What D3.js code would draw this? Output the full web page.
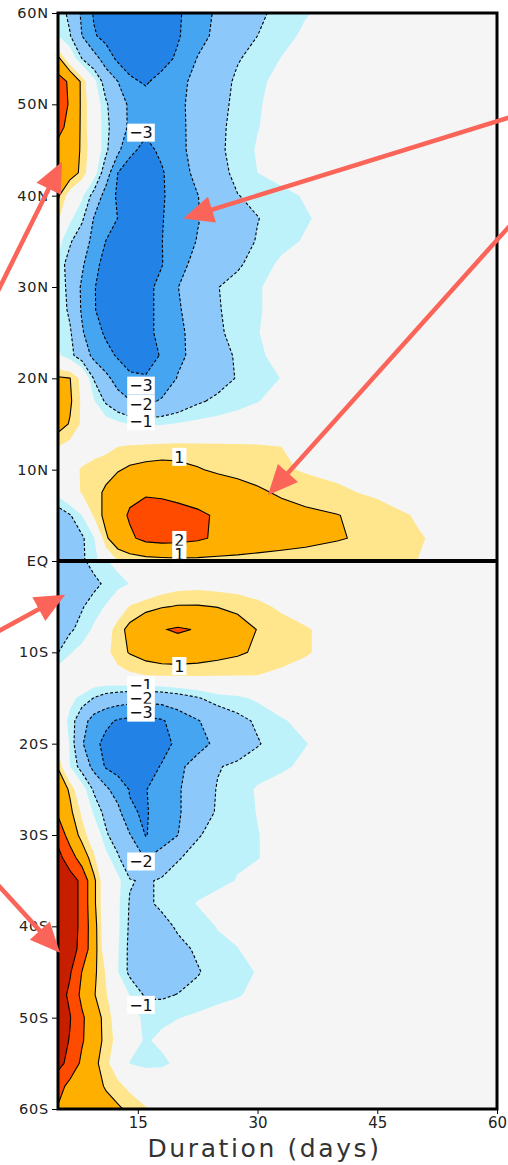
<!DOCTYPE html>
<html>
<head>
<meta charset="utf-8">
<title>Duration (days)</title>
<script src="https://cdn.jsdelivr.net/npm/d3@7"></script>
<style>
  body { margin: 0; background: #fff; }
  svg { display: block; font-family: "DejaVu Sans", sans-serif; }
</style>
</head>
<body>
<div id="chart"></div>
<script>
const w = 508;
const h = 1165;

// grid columns (days) and rows (latitude) of the two panels
const durations = [5, 6.5, 8, 9.5, 11, 12.5, 14, 16, 18, 20, 22.5, 25, 27.5, 30, 33, 36, 40, 45, 50, 55, 60];
const latsNorth = [60, 57.5, 55, 52.5, 50, 47.5, 45, 42.5, 40, 37.5, 35, 32.5, 30, 27.5, 25, 22.5, 20, 17.5, 15, 12.5, 10, 7.5, 5, 2.5, 0];
const latsSouth = [0, -2.5, -5, -7.5, -10, -12.5, -15, -17.5, -20, -22.5, -25, -27.5, -30, -32.5, -35, -37.5, -40, -42.5, -45, -47.5, -50, -52.5, -55, -57.5, -60];

// anomaly, one row per latitude
const anomalyNorth = [
  [-0.6, -1.2, -2.15, -3.1, -3.4, -3.6, -3.7, -3.7, -3.5, -3.15, -2.4, -1.85, -1.48, -1.13, -0.81, -0.54, -0.3, -0.1, 0, 0, 0],
  [-0.5, -0.95, -2.0, -2.9, -3.3, -3.5, -3.6, -3.6, -3.4, -3.1, -2.35, -1.75, -1.4, -1.0, -0.68, -0.4, -0.2, -0.05, 0, 0, 0],
  [1.2, 0.0, -1.0, -1.6, -2.45, -3.2, -3.4, -3.5, -3.35, -2.85, -1.95, -1.5, -1.05, -0.78, -0.48, -0.3, -0.15, 0, 0, 0, 0],
  [2.4, 1.85, 0.85, -0.3, -1.35, -2.0, -2.85, -3.1, -2.7, -2.25, -1.75, -1.3, -0.88, -0.6, -0.35, -0.2, -0.1, 0, 0, 0, 0],
  [2.5, 1.9, 0.85, 0.0, -0.9, -1.55, -2.15, -2.6, -2.6, -2.2, -1.67, -1.2, -0.85, -0.55, -0.3, -0.15, -0.05, 0, 0, 0, 0],
  [2.2, 1.8, 0.85, 0.0, -0.8, -1.5, -2.15, -2.8, -2.7, -2.25, -1.64, -1.15, -0.8, -0.52, -0.3, -0.15, 0, 0, 0, 0, 0],
  [1.8, 1.45, 0.9, 0.05, -0.85, -1.77, -2.8, -3.25, -2.82, -2.25, -1.66, -1.15, -0.75, -0.45, -0.3, -0.15, 0, 0, 0, 0, 0],
  [1.7, 1.35, 0.85, -0.2, -1.46, -3.0, -3.4, -3.5, -3.1, -2.43, -1.74, -1.25, -0.82, -0.5, -0.3, -0.15, 0, 0, 0, 0, 0],
  [1.1, 0.2, -0.4, -1.25, -2.4, -3.15, -3.5, -3.6, -3.1, -2.6, -2.02, -1.51, -1.02, -0.84, -0.65, -0.45, -0.25, -0.1, 0, 0, 0],
  [0.6, -0.4, -0.85, -2.05, -2.5, -3.02, -3.3, -3.45, -3.05, -2.6, -2.05, -1.6, -1.25, -1.02, -0.75, -0.55, -0.3, -0.1, 0, 0, 0],
  [-0.3, -0.9, -1.56, -2.25, -3.02, -3.35, -3.5, -3.5, -3.02, -2.5, -1.95, -1.6, -1.3, -0.95, -0.65, -0.45, -0.25, -0.1, 0, 0, 0],
  [-0.6, -1.33, -1.85, -2.73, -3.3, -3.45, -3.5, -3.45, -3.05, -2.25, -1.76, -1.45, -1.1, -0.74, -0.4, -0.25, -0.1, 0, 0, 0, 0],
  [-0.6, -1.23, -2.13, -2.95, -3.35, -3.5, -3.5, -3.3, -2.7, -2.02, -1.5, -1.02, -0.78, -0.55, -0.3, -0.15, 0, 0, 0, 0, 0],
  [-0.55, -1.15, -2.1, -2.95, -3.3, -3.45, -3.45, -3.25, -2.75, -2.1, -1.55, -1.05, -0.78, -0.55, -0.3, -0.15, 0, 0, 0, 0, 0],
  [-0.6, -0.9, -1.9, -2.6, -3.15, -3.35, -3.4, -3.2, -2.8, -2.2, -1.65, -1.1, -0.8, -0.52, -0.3, -0.15, 0, 0, 0, 0, 0],
  [-0.4, -0.8, -1.4, -2.25, -2.7, -3.1, -3.25, -3.25, -2.95, -2.2, -1.7, -1.3, -0.9, -0.6, -0.3, -0.15, 0, 0, 0, 0, 0],
  [1.1, 1.02, 0.3, -1.05, -1.75, -2.4, -2.9, -2.95, -2.6, -1.95, -1.62, -1.3, -0.95, -0.75, -0.48, -0.25, -0.1, 0, 0, 0, 0],
  [1.35, 1.1, 0.4, -0.45, -1.1, -1.6, -1.95, -2.2, -1.9, -1.55, -1.1, -0.85, -0.7, -0.52, -0.3, -0.15, 0, 0, 0, 0, 0],
  [1.3, 0.95, 0.4, 0.0, -0.2, -0.35, -0.52, -0.6, -0.55, -0.45, -0.35, -0.3, -0.2, -0.15, -0.1, 0, 0, 0, 0, 0, 0],
  [0.5, 0.3, 0.2, 0.25, 0.35, 0.5, 0.58, 0.62, 0.66, 0.68, 0.65, 0.63, 0.6, 0.57, 0.5, 0.4, 0.3, 0.2, 0.1, 0, 0],
  [0.1, 0.3, 0.55, 0.7, 0.8, 0.95, 1.1, 1.2, 1.25, 1.2, 1.05, 0.9, 0.8, 0.7, 0.58, 0.45, 0.35, 0.2, 0.1, 0, 0],
  [-0.3, 0.2, 0.55, 0.8, 1.1, 1.45, 1.8, 1.9, 1.85, 1.75, 1.6, 1.45, 1.3, 1.12, 0.9, 0.75, 0.6, 0.4, 0.2, 0.05, 0],
  [-1.4, -1.05, -0.5, 0.6, 1.2, 1.69, 2.1, 2.4, 2.4, 2.3, 2.15, 1.9, 1.7, 1.5, 1.3, 1.15, 1.02, 0.75, 0.45, 0.2, 0.05],
  [-1.6, -1.3, -1.1, -0.55, 0.9, 1.45, 1.85, 2.25, 2.35, 2.3, 2.15, 1.85, 1.65, 1.45, 1.3, 1.2, 1.05, 0.85, 0.55, 0.3, 0.1],
  [-1.4, -1.3, -1.1, -0.7, -0.1, 0.5, 0.6, 0.7, 0.75, 0.8, 0.8, 0.78, 0.76, 0.75, 0.73, 0.7, 0.65, 0.58, 0.5, 0.3, 0.1]
];

const anomalySouth = [
  [-1.5, -1.3, -1.1, -0.8, -0.55, -0.3, 0.0, 0.2, 0.4, 0.5, 0.35, 0.2, 0.1, 0, 0, 0, 0, 0, 0, 0, 0],
  [-1.6, -1.45, -1.3, -1.15, -0.9, -0.7, -0.48, -0.2, 0.1, 0.25, 0.3, 0.25, 0.2, 0.15, 0.1, 0, 0, 0, 0, 0, 0],
  [-1.5, -1.25, -1.05, -0.75, -0.45, 0.1, 0.55, 0.8, 0.95, 1.05, 1.05, 0.98, 0.85, 0.65, 0.4, 0.25, 0.1, 0, 0, 0, 0],
  [-1.3, -1.1, -0.8, -0.4, 0.2, 0.75, 1.2, 1.6, 1.95, 2.1, 1.95, 1.6, 1.3, 0.98, 0.75, 0.55, 0.3, 0.1, 0, 0, 0],
  [-1.02, -0.55, -0.3, 0.0, 0.35, 0.75, 1.05, 1.3, 1.45, 1.5, 1.4, 1.25, 1.1, 0.9, 0.7, 0.55, 0.3, 0.1, 0, 0, 0],
  [-0.1, 0, 0.05, 0.1, 0.2, 0.3, 0.4, 0.5, 0.55, 0.55, 0.55, 0.53, 0.52, 0.5, 0.4, 0.3, 0.15, 0, 0, 0, 0],
  [-0.2, -0.4, -0.6, -1.02, -1.3, -1.45, -1.55, -1.6, -1.55, -1.35, -1.05, -0.7, -0.6, -0.4, -0.2, 0, 0, 0, 0, 0, 0],
  [-0.2, -0.6, -1.6, -2.4, -2.8, -3.1, -3.25, -3.3, -3.1, -2.6, -2.05, -1.6, -1.2, -0.9, -0.55, -0.35, -0.15, 0, 0, 0, 0],
  [0.2, -0.55, -1.9, -2.75, -3.25, -3.45, -3.5, -3.45, -3.25, -2.85, -2.3, -1.8, -1.45, -1.05, -0.7, -0.52, -0.25, -0.1, 0, 0, 0],
  [0.95, -0.5, -1.3, -2.3, -3.1, -3.35, -3.4, -3.3, -2.95, -2.2, -1.65, -1.05, -0.85, -0.7, -0.58, -0.4, -0.2, 0, 0, 0, 0],
  [1.5, 0.9, -0.2, -1.1, -1.8, -2.5, -3.05, -3.05, -2.45, -2.1, -1.5, -0.95, -0.7, -0.45, -0.3, -0.15, 0, 0, 0, 0, 0],
  [1.85, 1.15, 0.4, -0.6, -1.2, -1.7, -2.9, -3.1, -2.5, -2.1, -1.5, -0.9, -0.7, -0.48, -0.3, -0.15, 0, 0, 0, 0, 0],
  [2.7, 1.55, 0.75, 0.1, -0.9, -1.4, -1.95, -3.05, -2.5, -2.02, -1.05, -0.8, -0.65, -0.52, -0.3, -0.15, 0, 0, 0, 0, 0],
  [3.3, 2.5, 1.5, 0.6, -0.3, -0.9, -1.6, -2.05, -1.6, -1.05, -0.8, -0.65, -0.55, -0.52, -0.3, -0.15, 0, 0, 0, 0, 0],
  [3.8, 3.4, 2.8, 1.15, 0.0, -0.35, -0.95, -1.1, -0.9, -0.75, -0.65, -0.6, -0.48, -0.3, -0.15, 0, 0, 0, 0, 0, 0],
  [3.8, 3.4, 2.8, 1.15, 0.0, -0.4, -1.05, -1.15, -0.85, -0.65, -0.48, -0.35, -0.25, -0.15, 0, 0, 0, 0, 0, 0, 0],
  [3.8, 3.4, 2.8, 1.3, 0.0, -0.4, -1.1, -1.45, -1.25, -0.9, -0.65, -0.48, -0.3, -0.15, 0, 0, 0, 0, 0, 0, 0],
  [3.8, 3.35, 2.75, 1.3, 0.1, -0.45, -1.15, -1.55, -1.45, -1.2, -0.9, -0.6, -0.52, -0.25, -0.1, 0, 0, 0, 0, 0, 0],
  [3.7, 3.1, 1.98, 1.15, 0.45, -0.48, -1.15, -1.55, -1.5, -1.35, -1.05, -0.75, -0.6, -0.48, -0.2, -0.05, 0, 0, 0, 0, 0],
  [3.5, 2.8, 1.75, 1.05, 0.55, 0.0, -0.52, -1.1, -1.1, -0.98, -0.8, -0.65, -0.55, -0.35, -0.15, 0, 0, 0, 0, 0, 0],
  [3.5, 3.05, 2.15, 1.4, 0.75, 0.2, -0.3, -0.6, -0.6, -0.52, -0.4, -0.3, -0.2, -0.1, 0, 0, 0, 0, 0, 0, 0],
  [3.4, 2.95, 2.1, 1.4, 0.8, 0.3, -0.3, -0.55, -0.4, -0.2, -0.1, 0, 0, 0, 0, 0, 0, 0, 0, 0, 0],
  [3.3, 2.7, 1.8, 1.2, 0.65, 0.1, -0.52, -0.65, -0.6, -0.4, -0.2, 0, 0, 0, 0, 0, 0, 0, 0, 0, 0],
  [2.4, 1.7, 1.4, 1.2, 0.95, 0.65, 0.35, 0.1, 0, 0, 0, 0, 0, 0, 0, 0, 0, 0, 0, 0, 0],
  [1.9, 1.6, 1.4, 1.3, 1.2, 1.1, 0.85, 0.55, 0.3, 0.1, 0, 0, 0, 0, 0, 0, 0, 0, 0, 0, 0]
];

const shadeLevels = [0.5, 1, 2, 3];
const lineLevels = [1, 2, 3];
const warmColors = ["#ffe68c", "#ffaf00", "#ff4b00", "#c81e00"];
const coolColors = ["#bef2fa", "#8cc8fa", "#46a5f0", "#2382e6"];

const latTicks = [60, 50, 40, 30, 20, 10, 0, -10, -20, -30, -40, -50, -60];
const dayTicks = [15, 30, 45, 60];

// contour labels placed on their lines (day, latitude)
const contourLabels = [
  {text: "\u22123", day: 15.4, lat: 46.9},
  {text: "\u22123", day: 15.4, lat: 19.2},
  {text: "\u22122", day: 15.4, lat: 17.2},
  {text: "\u22121", day: 15.4, lat: 15.3},
  {text: "1", day: 20.2, lat: 11.4},
  {text: "2", day: 20.2, lat: 2.3},
  {text: "1", day: 20.2, lat: 0.7},
  {text: "1", day: 20.2, lat: -11.5},
  {text: "\u22121", day: 15.4, lat: -13.6},
  {text: "\u22122", day: 15.4, lat: -15.0},
  {text: "\u22123", day: 15.4, lat: -16.6},
  {text: "\u22122", day: 15.4, lat: -32.9},
  {text: "\u22121", day: 15.4, lat: -48.6}
];

// annotation arrows (day, latitude), tail -> head
const arrows = [
  {from: [-2.9, 28.9], to: [5.5, 43.7]},
  {from: [61.7, 48.6], to: [20.7, 37.5]},
  {from: [61.7, 36.8], to: [31.3, 7.2]},
  {from: [-2.9, -7.9], to: [5.9, -3.7]},
  {from: [-2.9, -35.1], to: [5.25, -42.9]}
];

const svg = d3.select("#chart").append("svg").attr("width", w).attr("height", h);

const x = d3.scaleLinear().domain([5, 60]).range([58, 497]);
const y = d3.scaleLinear().domain([60, -60]).range([13, 1109]);

svg.append("rect")
  .attr("x", x(5)).attr("y", y(60))
  .attr("width", x(60) - x(5)).attr("height", y(-60) - y(60))
  .attr("fill", "#f5f5f5");

function drawPanel(grid, lats, id) {
  const nx = durations.length, ny = lats.length;
  const flat = grid.flat();
  const neg = flat.map(v => -v);
  // grid index -> data value (values sit at cell centres in d3.contours)
  const colDay = d3.scaleLinear().domain(d3.range(nx)).range(durations).clamp(true);
  const rowLat = d3.scaleLinear().domain(d3.range(ny)).range(lats).clamp(true);
  const path = d3.geoPath(d3.geoTransform({
    point(px, py) { this.stream.point(x(colDay(px - 0.5)), y(rowLat(py - 0.5))); }
  }));

  svg.append("clipPath").attr("id", id)
    .append("rect")
      .attr("x", x(5)).attr("y", y(d3.max(lats)))
      .attr("width", x(60) - x(5)).attr("height", y(d3.min(lats)) - y(d3.max(lats)));

  const g = svg.append("g").attr("clip-path", "url(#" + id + ")");
  const shade = d3.contours().size([nx, ny]).thresholds(shadeLevels);
  const lines = d3.contours().size([nx, ny]).thresholds(lineLevels);

  g.selectAll("path.warm").data(shade(flat)).join("path")
    .attr("class", "warm").attr("d", path)
    .attr("fill", (d, i) => warmColors[i]);
  g.selectAll("path.cool").data(shade(neg)).join("path")
    .attr("class", "cool").attr("d", path)
    .attr("fill", (d, i) => coolColors[i]);

  g.selectAll("path.pos").data(lines(flat)).join("path")
    .attr("class", "pos").attr("d", path)
    .attr("fill", "none").attr("stroke", "#000").attr("stroke-width", 1.1);
  g.selectAll("path.neg").data(lines(neg)).join("path")
    .attr("class", "neg").attr("d", path)
    .attr("fill", "none").attr("stroke", "#000").attr("stroke-width", 1.1)
    .attr("stroke-dasharray", "3,2");
}

drawPanel(anomalyNorth, latsNorth, "clip-north");
drawPanel(anomalySouth, latsSouth, "clip-south");

//contour labels
const lab = svg.append("g").selectAll("g")
  .data(contourLabels)
  .join("g")
    .attr("transform", d => "translate(" + [x(d.day), y(d.lat)] + ")");
lab.append("rect").attr("fill", "#fff");
lab.append("text")
  .attr("text-anchor", "middle")
  .attr("dy", "0.36em")
  .attr("font-size", 16)
  .attr("fill", "#111")
  .text(d => d.text);
lab.each(function() {
  const bb = d3.select(this).select("text").node().getBBox();
  d3.select(this).select("rect")
    .attr("x", bb.x - 2).attr("y", -9)
    .attr("width", bb.width + 4).attr("height", 18);
});

//frame and equator
svg.append("rect")
  .attr("x", x(5)).attr("y", y(60))
  .attr("width", x(60) - x(5)).attr("height", y(-60) - y(60))
  .attr("fill", "none").attr("stroke", "#000").attr("stroke-width", 3);
svg.append("line")
  .attr("x1", x(5)).attr("x2", x(60)).attr("y1", y(0)).attr("y2", y(0))
  .attr("stroke", "#000").attr("stroke-width", 4);

//axes
const latFormat = d => d === 0 ? "EQ" : d > 0 ? d + "N" : (-d) + "S";
svg.append("g")
  .attr("transform", "translate(" + x(5) + ",0)")
  .call(d3.axisLeft(y).tickValues(latTicks).tickFormat(latFormat).tickSize(6).tickPadding(3))
  .call(g => g.select(".domain").remove())
  .attr("font-family", "DejaVu Sans, sans-serif")
  .attr("font-size", 14.5)
  .call(g => g.selectAll("text").attr("fill", "#222").attr("letter-spacing", "0.8px"));

svg.append("g")
  .attr("transform", "translate(0," + y(-60) + ")")
  .call(d3.axisBottom(x).tickValues(dayTicks).tickSize(5).tickPadding(3))
  .call(g => g.select(".domain").remove())
  .attr("font-family", "DejaVu Sans, sans-serif")
  .attr("font-size", 15)
  .call(g => g.selectAll("text").attr("fill", "#222"));

svg.append("text")
  .attr("x", (x(5) + x(60)) / 2 - 13)
  .attr("y", 1157)
  .attr("text-anchor", "middle")
  .attr("font-size", 25)
  .attr("letter-spacing", "2.6px")
  .attr("fill", "#333")
  .text("Duration (days)");

//arrows
const arrowG = svg.append("g").attr("fill", "#fa6459").attr("stroke", "#fa6459");
arrows.forEach(a => {
  const p0 = [x(a.from[0]), y(a.from[1])];
  const p1 = [x(a.to[0]), y(a.to[1])];
  const len = Math.hypot(p1[0] - p0[0], p1[1] - p0[1]);
  const ux = (p1[0] - p0[0]) / len, uy = (p1[1] - p0[1]) / len;
  const headLen = 30, headHalf = 13.5;
  const bx = p1[0] - ux * headLen, by = p1[1] - uy * headLen;
  arrowG.append("line")
    .attr("x1", p0[0]).attr("y1", p0[1])
    .attr("x2", bx + ux * 4).attr("y2", by + uy * 4)
    .attr("stroke-width", 4.5);
  arrowG.append("polygon")
    .attr("stroke", "none")
    .attr("points", [[p1[0], p1[1]], [bx - uy * headHalf, by + ux * headHalf], [bx + uy * headHalf, by - ux * headHalf]].join(" "));
});
</script>
</body>
</html>
